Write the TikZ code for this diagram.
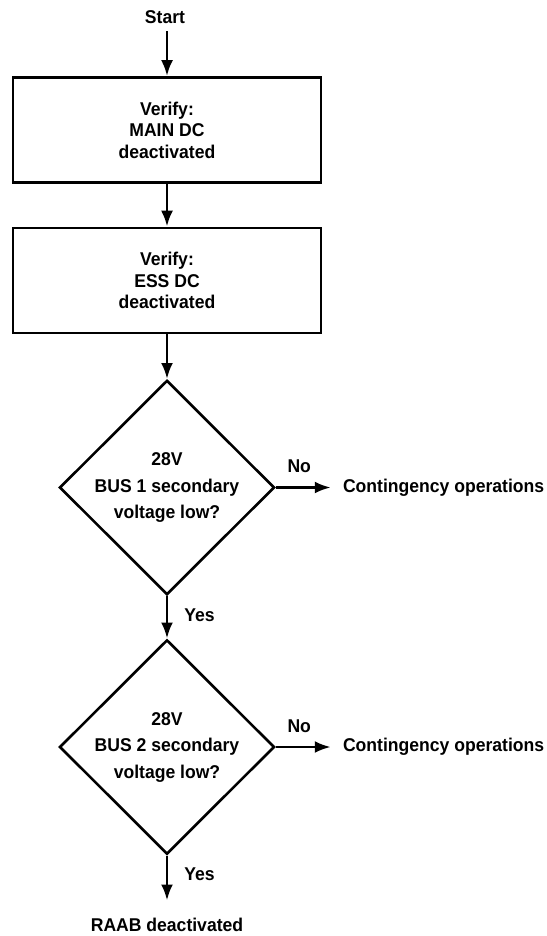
\documentclass[tikz,border=0pt]{standalone}
\usepackage{fontspec}
\setmainfont[FakeStretch=0.95]{Liberation Sans}
\usepackage{tikz}
\usetikzlibrary{shapes.geometric,arrows.meta,positioning}
\tikzset{
flow_box/.style={rectangle, draw, line width=2.8pt, minimum width=308pt, minimum height=105pt, align=center, font=\bfseries\fontsize{18.5}{21.5}\selectfont},
decision/.style={diamond, draw, line width=2.6pt, aspect=1, inner sep=0pt, minimum width=215pt, minimum height=212pt, align=center, font=\bfseries\fontsize{18.5}{26.5}\selectfont},
message/.style={inner sep=0pt, font=\bfseries\fontsize{18.5}{22}\selectfont},
flow/.style={-{Latex[length=16pt,width=12pt]}, line width=2.8pt}
}

\begin{document}
\begin{tikzpicture}[x=1pt, y=1pt]
    \useasboundingbox (0,0) rectangle (546,-936);
    \node[message] (start) at (165,-17.5) {Start};
    \node[flow_box] (box_1) at (167,-130) {Verify:\\MAIN DC\\deactivated};
    \node[flow_box] (box_2) at (167,-280.5) {Verify:\\ESS DC\\deactivated};
    \node[decision] (dec_1) at (167,-487.5) {28V\\BUS 1 secondary\\voltage low?};
    \node[decision] (dec_2) at (167,-747) {28V\\BUS 2 secondary\\voltage low?};
    \node[message] (cont_1) [right=67pt of dec_1.east] {Contingency operations};
    \node[message] (cont_2) [right=67pt of dec_2.east] {Contingency operations};
    \node[message] (raab) [below=62pt of dec_2.south] {RAAB deactivated};
    \draw[flow, shorten <=7pt] (box_1.north |- start.south) -- (box_1.north);
    \draw[flow] (box_1.south) -- (box_2.north);
    \draw[flow] (box_2.south) -- (dec_1.north);
    \draw[flow, shorten >=12pt] (dec_1.east) -- (cont_1.west) node[message, pos=0.35, above=13pt] (no_1) {No};
    \draw[flow] (dec_1.south) -- (dec_2.north) node[message, pos=0.45, right=16pt] (yes_1) {Yes};
    \draw[flow, shorten >=12pt] (dec_2.east) -- (cont_2.west) node[message, pos=0.35, above=13pt] (no_2) {No};
    \draw[flow, shorten >=17pt] (dec_2.south) -- (raab.north) node[message, pos=0.3, right=16pt] (yes_2) {Yes};
\end{tikzpicture}
\end{document}
